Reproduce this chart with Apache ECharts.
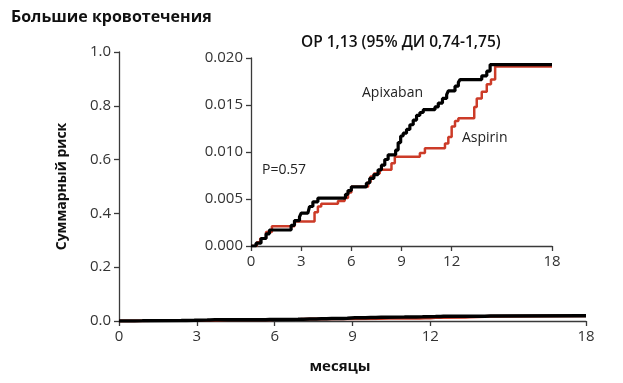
<!DOCTYPE html>
<html><head><meta charset="utf-8">
<script src="https://cdn.jsdelivr.net/npm/echarts@6/dist/echarts.min.js"></script>
<style>html,body{margin:0;padding:0;background:#fff}#c{width:623px;height:383px}</style>
</head><body><div id="c"></div>
<script>
// Apixaban cumulative risk (months, value)
const apixT = [0,0.3,0.6,0.9,1.1,2.4,2.6,2.9,3.0,3.4,3.5,3.7,4.0,5.65,5.8,6.0,6.9,7.1,7.35,7.6,7.8,8.0,8.2,8.65,8.8,8.95,9.1,9.3,9.5,9.7,9.9,10.1,10.3,11.0,11.2,11.45,11.7,11.8,12.2,12.4,12.5,13.8,14.1,14.3,18];
const apixV = [0,0.0003,0.0008,0.0013,0.0017,0.0022,0.0027,0.0031,0.0035,0.0037,0.0042,0.0047,0.0051,0.0055,0.0059,0.0063,0.0067,0.0072,0.0076,0.0081,0.0086,0.0092,0.0097,0.0102,0.011,0.0117,0.012,0.0124,0.0129,0.0134,0.0139,0.0142,0.0145,0.0148,0.0152,0.0157,0.0161,0.0165,0.0170,0.0174,0.0177,0.0181,0.0186,0.0193,0.0193];
// Aspirin cumulative risk
const aspT = [0,0.35,0.55,0.9,1.25,2.6,3.8,4.0,4.2,5.2,5.6,5.8,6.0,7.0,7.15,7.35,7.7,8.4,8.6,10.1,10.4,11.6,11.8,12.0,12.2,12.4,13.35,13.5,13.8,14.1,14.35,14.6,18];
const aspV = [0,0.0004,0.0008,0.0015,0.0021,0.0026,0.0036,0.0042,0.0045,0.0048,0.0051,0.0057,0.0063,0.0068,0.0074,0.0077,0.0081,0.0088,0.0095,0.0099,0.0104,0.0109,0.0116,0.0127,0.0133,0.0136,0.0148,0.0157,0.0164,0.0172,0.0177,0.0191,0.0191];
const xTicks = [0,3,6,9,12,18];
const mainYTicks = [0,0.2,0.4,0.6,0.8,1.0];
const insetYTicks = [0,0.005,0.010,0.015,0.020];
const title = 'Большие кровотечения';
const hrText = 'ОР 1,13 (95% ДИ 0,74-1,75)';
const pText = 'P=0.57';
const yTitle = 'Суммарный риск';
const xTitle = 'месяцы';

const zip = (t, v) => t.map((x, i) => [x, v[i]]);
const F = '"Open Sans", "Noto Sans", sans-serif';
const axisCol = '#3a3a3a';
const RED = '#cc3b28';

function xAxisCfg(gi, fs) {
  return {
    type: 'value', gridIndex: gi, min: 0, max: 18,
    axisLine: { show: true, onZero: false, lineStyle: { color: axisCol, width: 1.3 } },
    axisTick: { show: true, customValues: xTicks, length: 5, lineStyle: { color: axisCol, width: 1.3 } },
    axisLabel: { customValues: xTicks, color: '#333', fontFamily: F, fontSize: fs, margin: 8 },
    splitLine: { show: false }
  };
}
function yAxisCfg(gi, max, ticks, dec, fs, name) {
  return {
    type: 'value', gridIndex: gi, min: 0, max: max,
    axisLine: { show: true, onZero: false, lineStyle: { color: axisCol, width: 1.3 } },
    axisTick: { show: true, customValues: ticks, length: 5, lineStyle: { color: axisCol, width: 1.3 } },
    axisLabel: { customValues: ticks, color: '#333', fontFamily: F, fontSize: fs, margin: 8,
      formatter: v => v.toFixed(dec) },
    splitLine: { show: false },
    name: name || '', nameLocation: 'middle', nameRotate: 90, nameGap: 50,
    nameTextStyle: { fontFamily: F, fontWeight: 'bold', fontSize: 14, color: '#111' }
  };
}
function line(xi, data, color, w, z) {
  return { type: 'line', xAxisIndex: xi, yAxisIndex: xi, data: data, step: 'end',
    showSymbol: false, symbol: 'none', lineStyle: { color: color, width: w }, z: z, silent: true, animation: false };
}

const chart = echarts.init(document.getElementById('c'), null, { renderer: 'canvas' });
chart.setOption({
  animation: false,
  backgroundColor: '#fff',
  grid: [
    { left: 119, top: 52, width: 467, height: 269 },
    { left: 251, top: 58, width: 301, height: 188 }
  ],
  xAxis: [xAxisCfg(0, 15), xAxisCfg(1, 15)],
  yAxis: [yAxisCfg(0, 1.0, mainYTicks, 1, 15, yTitle), yAxisCfg(1, 0.02, insetYTicks, 3, 15)],
  series: [
    line(0, zip(aspT, aspV), RED, 3, 2),
    line(0, zip(apixT, apixV), '#000', 3.5, 3),
    line(1, zip(aspT, aspV), RED, 2.5, 2),
    line(1, zip(apixT, apixV), '#000', 3.2, 3)
  ],
  graphic: [
    { type: 'text', left: 11, top: 9, style: { text: title, font: 'bold 16px ' + F, fill: '#111' } },
    { type: 'text', left: 301, top: 35, style: { text: hrText, font: '600 15.5px ' + F, fill: '#111' } },
    { type: 'text', left: 362, top: 86, style: { text: 'Apixaban', font: '14px ' + F, fill: '#222' } },
    { type: 'text', left: 462, top: 131, style: { text: 'Aspirin', font: '14px ' + F, fill: '#222' } },
    { type: 'text', left: 262, top: 163, style: { text: pText, font: '14px ' + F, fill: '#222' } },
    { type: 'text', x: 340, y: 367, style: { text: xTitle, font: 'bold 15px ' + F, fill: '#111', align: 'center', verticalAlign: 'middle' } }
  ]
});
</script></body></html>
